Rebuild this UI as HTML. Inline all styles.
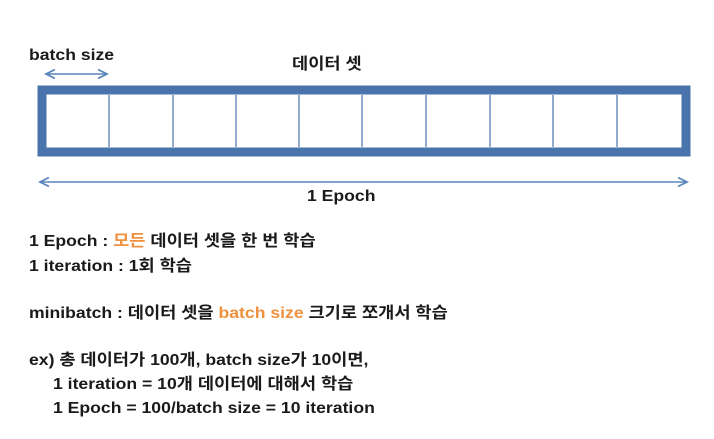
<!DOCTYPE html>
<html><head><meta charset="utf-8"><style>
body{margin:0;width:714px;height:439px;background:#fff;overflow:hidden;position:relative;font-family:"Liberation Sans","Noto Sans CJK KR",sans-serif;font-weight:bold;color:#1a1a1a}
.t{position:absolute;font-size:16px;white-space:nowrap;line-height:18px;transform:scaleX(1.1);transform-origin:0 0}
.o{color:#f0913f}
</style></head><body>
<svg width="714" height="439" style="position:absolute;left:0;top:0">
<defs><marker id="a" markerWidth="8" markerHeight="8" refX="6" refY="4" orient="auto-start-reverse"><path d="M0,1 L6,4 L0,7" fill="none" stroke="#5b86bd" stroke-width="1.2"/></marker></defs>
<line x1="46" y1="74" x2="107" y2="74" stroke="#5b86bd" stroke-width="1.5" marker-start="url(#a)" marker-end="url(#a)"/>
<rect x="42" y="90" width="644" height="62" fill="#fff" stroke="#4a74ac" stroke-width="9"/>
<g stroke="#4a74ac" stroke-width="1.2">
<line x1="109" y1="95" x2="109" y2="147"/><line x1="173" y1="95" x2="173" y2="147"/><line x1="236" y1="95" x2="236" y2="147"/><line x1="299" y1="95" x2="299" y2="147"/><line x1="362" y1="95" x2="362" y2="147"/><line x1="426" y1="95" x2="426" y2="147"/><line x1="490" y1="95" x2="490" y2="147"/><line x1="553" y1="95" x2="553" y2="147"/><line x1="617" y1="95" x2="617" y2="147"/>
</g>
<line x1="40" y1="182" x2="687" y2="182" stroke="#5b86bd" stroke-width="1.5" marker-start="url(#a)" marker-end="url(#a)"/>
</svg>
<div class="t" style="left:29px;top:47px">batch size</div>
<div class="t" style="left:292px;top:56px">데이터 셋</div>
<div class="t" style="left:307px;top:188px">1 Epoch</div>
<div class="t" style="left:29px;top:233px">1 Epoch : <span class="o">모든</span> 데이터 셋을 한 번 학습</div>
<div class="t" style="left:29px;top:258px">1 iteration : 1회 학습</div>
<div class="t" style="left:29px;top:305px">minibatch : 데이터 셋을 <span class="o">batch size</span> 크기로 쪼개서 학습</div>
<div class="t" style="left:29px;top:352px">ex) 총 데이터가 100개, batch size가 10이면,</div>
<div class="t" style="left:53px;top:376px">1 iteration = 10개 데이터에 대해서 학습</div>
<div class="t" style="left:53px;top:400px">1 Epoch = 100/batch size = 10 iteration</div>
</body></html>
